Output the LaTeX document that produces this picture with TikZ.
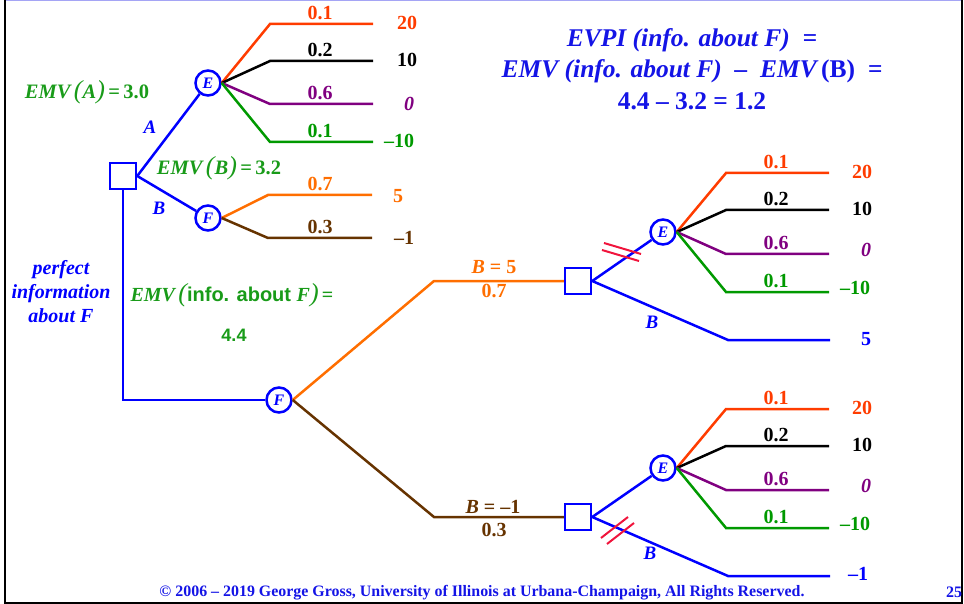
\documentclass[tikz,border=0pt]{standalone}
\usepackage{fontspec}
\setmainfont{Liberation Serif}
\newfontfamily\arialfont{Liberation Sans}
\definecolor{myred}{RGB}{255,60,0}
\definecolor{myorange}{RGB}{255,110,0}
\definecolor{mypurple}{RGB}{128,0,128}
\definecolor{mygreen}{RGB}{0,153,0}
\definecolor{mytgreen}{RGB}{25,155,25}
\definecolor{mybrown}{RGB}{102,51,0}
\definecolor{myblue}{RGB}{0,0,255}
\definecolor{mytblue}{RGB}{20,20,230}
\definecolor{mystrike}{RGB}{240,20,60}
\definecolor{mylightblue}{RGB}{165,165,245}
\newcommand{\bigp}[1]{{\fontsize{26}{26}\selectfont\mdseries #1}}
\begin{document}
\begin{tikzpicture}[x=1pt,y=-1pt,
  br/.style={line width=2.5pt},
  chance/.style={circle,draw=myblue,line width=2.5pt,minimum size=25pt,inner sep=0pt,fill=white,font=\bfseries\itshape\fontsize{16}{16}\selectfont,text=myblue},
  decision/.style={rectangle,draw=myblue,line width=2.5pt,minimum size=26pt,inner sep=0pt,fill=white},
  lab/.style={font=\bfseries\fontsize{20}{20}\selectfont,inner sep=0pt},
  val/.style={font=\bfseries\fontsize{20}{20}\selectfont,inner sep=0pt},
  valit/.style={font=\bfseries\itshape\fontsize{20}{20}\selectfont,inner sep=0pt},
  labit/.style={font=\bfseries\itshape\fontsize{19}{19}\selectfont,inner sep=0pt},
  emvtxt/.style={font=\bfseries\itshape\fontsize{20.5}{20.5}\selectfont,inner sep=0pt,text=mytgreen},
  strike/.style={draw=mystrike,line width=2pt}]
\useasboundingbox (0,0) rectangle (964,604);
% frame
\draw[mylightblue,line width=1.5pt] (6,0.75) -- (961,0.75);
\draw[black,line width=2pt] (5,0) -- (5,604);
\draw[black,line width=2pt] (962,0) -- (962,604);
\draw[black,line width=2pt] (4,603) -- (963,603);

% ---------- upper-left tree
\node[decision] (d1) at (123,176) {};
\node[chance] (e1) at (208,83) {E};
\node[chance] (f1) at (208,218) {F};
\draw[br,myblue] (d1.east) -- (e1);
\draw[br,myblue] (d1.east) -- (f1);
\foreach \n/\y/\c/\p in {1/24/myred/0.1,2/61/black/0.2,3/104/mypurple/0.6,4/142/mygreen/0.1}{
  \coordinate (ea\n) at (270,\y);
  \coordinate (eb\n) at (373,\y);
  \draw[br,\c] (e1.east) -- (ea\n) -- (eb\n);
  \node[lab,text=\c] (ep\n) at (320,\y-11) {\p};
}
\node[val,text=myred] (ev1) at (407,23) {20};
\node[val,text=black] (ev2) at (407,60) {10};
\node[valit,text=mypurple] (ev3) at (409,104) {0};
\node[val,text=mygreen] (ev4) at (399,141) {--10};
\coordinate (fa1) at (268,195); \coordinate (fb1) at (372,195);
\coordinate (fa2) at (268,238); \coordinate (fb2) at (372,238);
\draw[br,myorange] (f1.east) -- (fa1) -- (fb1);
\draw[br,mybrown] (f1.east) -- (fa2) -- (fb2);
\node[lab,text=myorange] (fp1) at (320,184) {0.7};
\node[lab,text=mybrown] (fp2) at (320,227) {0.3};
\node[val,text=myorange] (fv1) at (398,196) {5};
\node[val,text=mybrown] (fv2) at (404,238) {--1};

\node[emvtxt] (emva) at (87,92) {EMV\,\bigp{(}A\bigp{)}\,{\upshape=\,3.0}};
\node[labit,text=myblue] (la) at (150,127) {A};
\node[emvtxt] (emvb) at (219,168) {EMV\,\bigp{(}B\bigp{)}\,{\upshape=\,3.2}};
\node[labit,text=myblue] (lb) at (159,208) {B};

% ---------- perfect information branch
\node[text=myblue,align=center,inner sep=0pt,font=\bfseries\itshape\fontsize{20}{24}\selectfont] (pi) at (61,292) {perfect\\information\\about F};
\node[emvtxt,font=\bfseries\itshape\fontsize{20}{20}\selectfont] (emvi) at (232,295) {EMV\,\bigp{(}{\upshape\arialfont info. about }F\bigp{)}\,{\upshape=}};
\node[text=mytgreen,inner sep=0pt,font=\arialfont\bfseries\fontsize{18}{18}\selectfont] (emvv) at (234,335) {4.4};

\node[chance] (f2) at (279,400) {F};
\coordinate (v1) at (123,400);
\draw[br,myblue] (d1.south) -- (v1) -- (f2.west);
\node[decision] (d2) at (578,281) {};
\node[decision] (d3) at (578,517) {};
\coordinate (o1) at (434,281);
\coordinate (b1) at (434,517);
\draw[br,myorange] (f2.east) -- (o1) -- (d2.west);
\draw[br,mybrown] (f2.east) -- (b1) -- (d3.west);
\node[valit,text=myorange] (lb5) at (494,267) {B {\upshape = 5}};
\node[lab,text=myorange] (p07) at (494,291) {0.7};
\node[valit,text=mybrown] (lbm1) at (493,507) {B {\upshape = --1}};
\node[lab,text=mybrown] (p03) at (494,530) {0.3};

% ---------- right subtrees
\foreach \s/\dy in {u/0,l/236}{
  \node[chance] (e\s) at (663,232+\dy) {E};
  \foreach \n/\y/\c/\p in {1/173/myred/0.1,2/210/black/0.2,3/254/mypurple/0.6,4/292/mygreen/0.1}{
    \coordinate (\s a\n) at (726,\y+\dy);
    \coordinate (\s b\n) at (829,\y+\dy);
    \draw[br,\c] (e\s.east) -- (\s a\n) -- (\s b\n);
    \node[lab,text=\c] (\s p\n) at (776,\y+\dy-11) {\p};
  }
  \node[val,text=myred] (\s v1) at (862,172+\dy) {20};
  \node[val,text=black] (\s v2) at (862,209+\dy) {10};
  \node[valit,text=mypurple] (\s v3) at (866,250+\dy) {0};
  \node[val,text=mygreen] (\s v4) at (855,288+\dy) {--10};
  \coordinate (\s g1) at (728,340+\dy);
  \coordinate (\s g2) at (830,340+\dy);
}
\draw[br,myblue] (d2.east) -- (eu);
\draw[br,myblue] (d2.east) -- (ug1) -- (ug2);
\draw[br,myblue] (d3.east) -- (el);
\draw[br,myblue] (d3.east) -- (lg1) -- (lg2);
\node[labit,text=myblue] (lbu) at (652,322) {B};
\node[val,text=myblue] (v5) at (866,339) {5};
\node[labit,text=myblue] (lbl) at (650,553) {B};
\node[val,text=myblue] (vm1) at (858,574) {--1};

% strikes
\draw[strike] (604,243) -- (641,254);
\draw[strike] (602,250) -- (639,261);
\draw[strike] (601,538) -- (628,517);
\draw[strike] (607,544) -- (634,523);

% ---------- EVPI text
\node[text=mytblue,align=center,inner sep=0pt,font=\bfseries\itshape\fontsize{25.5}{31.5}\selectfont] (evpi) at (692,69)
 {EVPI (info. about F) \ =\\EMV (info. about F) \ -- \ EMV\,{\upshape(B)} \ =\\{\upshape 4.4 -- 3.2 = 1.2}};

% footer
\node[text=mytblue,font=\bfseries\fontsize{13}{13}\selectfont,inner sep=0pt] (foot) at (482,593)
 {\resizebox{645pt}{!}{\copyright{} 2006 -- 2019 George Gross, University of Illinois at Urbana-Champaign, All Rights Reserved.}};
\node[text=mytblue,font=\bfseries\fontsize{16}{16}\selectfont,inner sep=0pt] (pg) at (954,592) {25};
\end{tikzpicture}
\end{document}
